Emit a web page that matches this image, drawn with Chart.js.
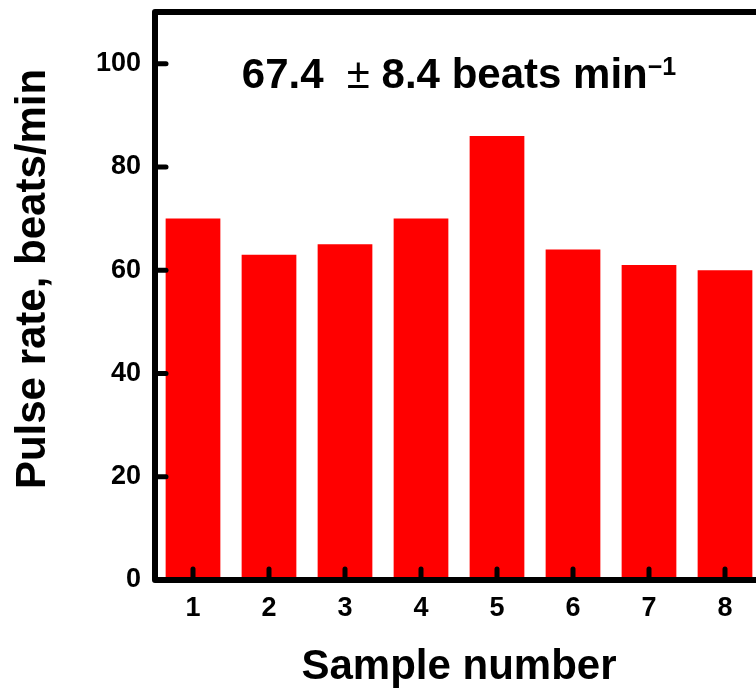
<!DOCTYPE html>
<html>
<head>
<meta charset="utf-8">
<script src="https://cdn.jsdelivr.net/npm/chart.js@4/dist/chart.umd.min.js"></script>
<style>
  html, body { margin: 0; padding: 0; background: #fff; overflow: hidden; }
  #wrap { width: 800px; height: 694px; position: relative; }
</style>
</head>
<body>
<div id="wrap"><canvas id="pulseChart"></canvas></div>
<script>
// data
const samples = ['1', '2', '3', '4', '5', '6', '7', '8'];
const pulseRates = [70, 63, 65, 70, 86, 64, 61, 60];
const yTicks = [0, 20, 40, 60, 80, 100];
const meanRate = '67.4';
const sdRate = '8.4';
const xTitle = 'Sample number';
const yTitle = 'Pulse rate, beats/min';

const FONT = '"Liberation Sans", Arial, sans-serif';

// frame, inward tick marks, axis titles and the mean label
const decorations = {
    id: 'decorations',
    afterDatasetsDraw(chart) {
        const { ctx, chartArea: a } = chart;
        const xs = chart.scales.x, ys = chart.scales.y;
        ctx.save();

        // tick marks pointing into the plot
        ctx.strokeStyle = '#000';
        ctx.lineWidth = 5;
        ctx.lineCap = 'round';
        yTicks.forEach(v => {
            const py = ys.getPixelForValue(v);
            if (v === 0) return;
            ctx.beginPath();
            ctx.moveTo(a.left, py);
            ctx.lineTo(a.left + 11, py);
            ctx.stroke();
        });
        samples.forEach((s, i) => {
            const px = xs.getPixelForValue(i);
            ctx.beginPath();
            ctx.moveTo(px, a.bottom);
            ctx.lineTo(px, a.bottom - 11);
            ctx.stroke();
        });

        // box
        ctx.lineWidth = 6;
        ctx.lineCap = 'butt';
        ctx.lineJoin = 'round';
        ctx.strokeRect(a.left, a.top, a.right - a.left, a.bottom - a.top);

        const cx = (a.left + a.right) / 2;
        ctx.fillStyle = '#000';
        ctx.textBaseline = 'alphabetic';

        // mean +/- sd text
        const parts = [
            { t: meanRate + '  ', f: 'bold 42px ' + FONT, dy: 0 },
            { t: '\u00b1', f: '42px ' + FONT, dy: 0 },
            { t: ' ' + sdRate + ' beats min', f: 'bold 42px ' + FONT, dy: 0 },
            { t: '\u22121', f: 'bold 25px ' + FONT, dy: -13 }
        ];
        let total = 0;
        parts.forEach(p => { ctx.font = p.f; p.w = ctx.measureText(p.t).width; total += p.w; });
        let tx = cx - total / 2;
        ctx.textAlign = 'left';
        parts.forEach(p => {
            ctx.font = p.f;
            ctx.fillText(p.t, tx, a.top + 76 + p.dy);
            tx += p.w;
        });

        // x title
        ctx.textAlign = 'center';
        ctx.font = 'bold 42px ' + FONT;
        ctx.fillText(xTitle, cx, a.bottom + 99);

        // y title
        ctx.translate(45, 279);
        ctx.rotate(-Math.PI / 2);
        ctx.fillText(yTitle, 0, 0);

        ctx.restore();
    }
};

new Chart(document.getElementById('pulseChart'), {
    type: 'bar',
    data: {
        labels: samples,
        datasets: [{
            data: pulseRates,
            backgroundColor: '#ff0000',
            borderWidth: 0,
            barPercentage: 0.72,
            categoryPercentage: 1.0
        }]
    },
    options: {
        responsive: true,
        maintainAspectRatio: false,
        animation: false,
        layout: {
            autoPadding: false,
            padding: { top: 12, right: 37, left: 0, bottom: 0 }
        },
        plugins: {
            legend: { display: false },
            tooltip: { enabled: false }
        },
        scales: {
            x: {
                grid: { display: false, drawTicks: false },
                border: { display: false },
                ticks: {
                    color: '#000',
                    padding: 12,
                    font: { family: FONT, size: 27, weight: 'bold' }
                },
                afterFit(scale) {
                    scale.height = 114;
                    scale.paddingLeft = 0;
                    scale.paddingRight = 0;
                }
            },
            y: {
                min: 0,
                max: 110,
                grid: { display: false, drawTicks: false },
                border: { display: false },
                ticks: {
                    color: '#000',
                    padding: 14,
                    font: { family: FONT, size: 27, weight: 'bold' }
                },
                afterBuildTicks(scale) {
                    scale.ticks = yTicks.map(v => ({ value: v }));
                },
                afterFit(scale) {
                    scale.width = 155;
                    scale.paddingTop = 0;
                    scale.paddingBottom = 0;
                }
            }
        }
    },
    plugins: [decorations]
});
</script>
</body>
</html>
